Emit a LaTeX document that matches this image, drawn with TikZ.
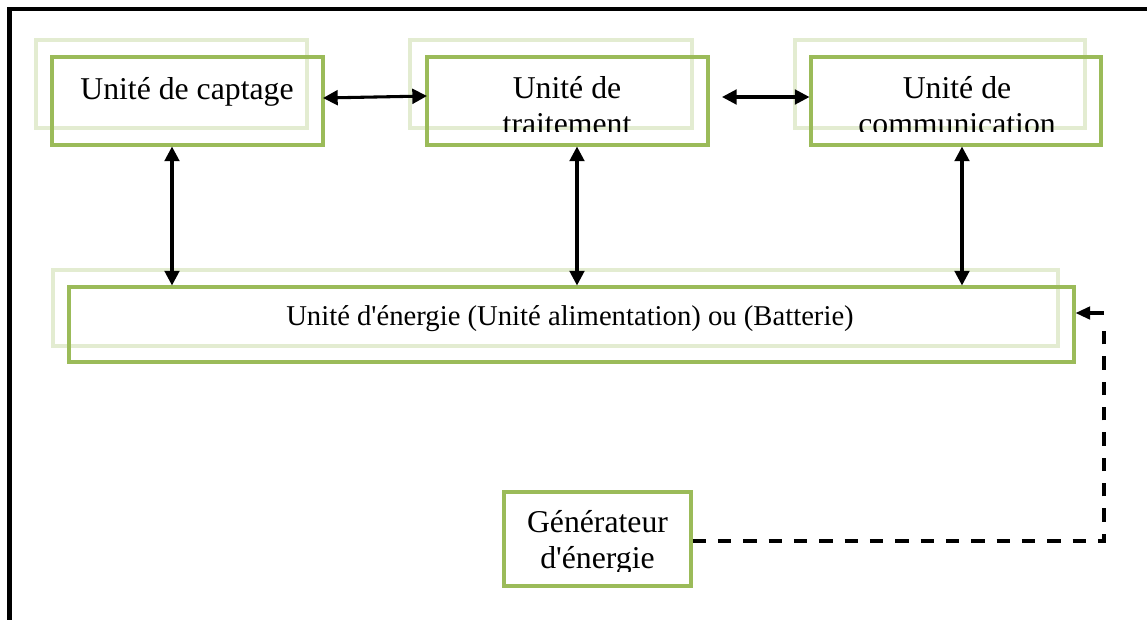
\documentclass[tikz,border=0pt]{standalone}
\usepackage{fontspec}
\setmainfont{Liberation Serif}
\usetikzlibrary{arrows.meta,fit}
\definecolor{boxgreen}{HTML}{9BBB59}
\colorlet{ghostgreen}{boxgreen!28}
\newcommand{\apos}{\textquotesingle}
\begin{document}
\begin{tikzpicture}[x=0.75pt,y=-0.75pt,
  mainbox/.style={draw=boxgreen,line width=2.3pt,inner sep=0pt},
  ghostbox/.style={draw=ghostgreen,line width=2.3pt,inner sep=0pt},
  lbl/.style={inner sep=0pt,anchor=base,font=\fontsize{23.8}{27}\selectfont},
  biglbl/.style={inner sep=0pt,anchor=base,font=\fontsize{21.5}{25}\selectfont},
  link/.style={line width=2.3pt,{Triangle[length=11pt,width=11pt]}-{Triangle[length=11pt,width=11pt]}},
  feed/.style={line width=2.3pt,dash pattern=on 10pt off 9pt},
  feedtip/.style={line width=2.3pt,-{Triangle[length=11pt,width=9.5pt]}}]
\clip (0,0) rectangle (1147,619);
\fill[white] (0,0) rectangle (1147,619);

% outer frame: left and top edges
\draw[line width=3.2pt] (9.5,640) -- (9.5,8.7) -- (1160,8.7);

% offset ghost frames behind the unit boxes
\node[ghostbox,fit={(36,40) (307,128)}] (captS) {};
\node[ghostbox,fit={(410,40) (692,128)}] (traitS) {};
\node[ghostbox,fit={(795,40) (1085,128)}] (commS) {};
\node[ghostbox,fit={(53,270) (1058,346)}] (energS) {};

% unit boxes
\node[mainbox,fit={(52,57) (323,145)}] (capt) {};
\node[mainbox,fit={(427,57) (708,145)}] (trait) {};
\node[mainbox,fit={(811,57) (1101,145)}] (comm) {};
\node[mainbox,fit={(69,287) (1074,362)}] (energ) {};
\node[mainbox,fit={(504,492) (691,586)}] (gen) {};

% labels (text areas are clipped at their lower margin)
\node[lbl] (captT) at (187,99) {Unité de captage};
\begin{scope}
  \clip (430,60) rectangle (705,131.5);
  \node[lbl] (traitT1) at (567,98) {Unité de};
  \node[lbl] (traitT2) at (567,134) {traitement};
\end{scope}
\begin{scope}
  \clip (814,60) rectangle (1098,131.5);
  \node[lbl] (commT1) at (957,98) {Unité de};
  \node[lbl] (commT2) at (957,134) {communication};
\end{scope}
\node[biglbl] (energT) at (570,325) {Unité d\apos énergie (Unité alimentation) ou (Batterie)};
\begin{scope}
  \clip (507,495) rectangle (688,571);
  \node[lbl] (genT1) at (597.5,532) {Générateur};
  \node[lbl] (genT2) at (597.5,568) {d\apos énergie};
\end{scope}

% links between the units
\coordinate (h1a) at (323,98);
\coordinate (h1b) at (427,96);
\draw[link] (h1a) -- (h1b);
\coordinate (h2a) at (722,97);
\draw[link] (h2a) -- (h2a -| comm.west);
\draw[link] (capt.south -| 172,0) -- (energ.north -| 172,0);
\draw[link] (trait.south -| 577,0) -- (energ.north -| 577,0);
\draw[link] (comm.south -| 962,0) -- (energ.north -| 962,0);

% feed from the generator to the energy unit
\coordinate (corner) at (1104,313);
\coordinate (dashend) at (1104,326);
\draw[feed] (gen.east |- 0,541) -| (dashend);
\draw[feedtip] (corner) -- (corner -| energ.east);
\end{tikzpicture}
\end{document}
